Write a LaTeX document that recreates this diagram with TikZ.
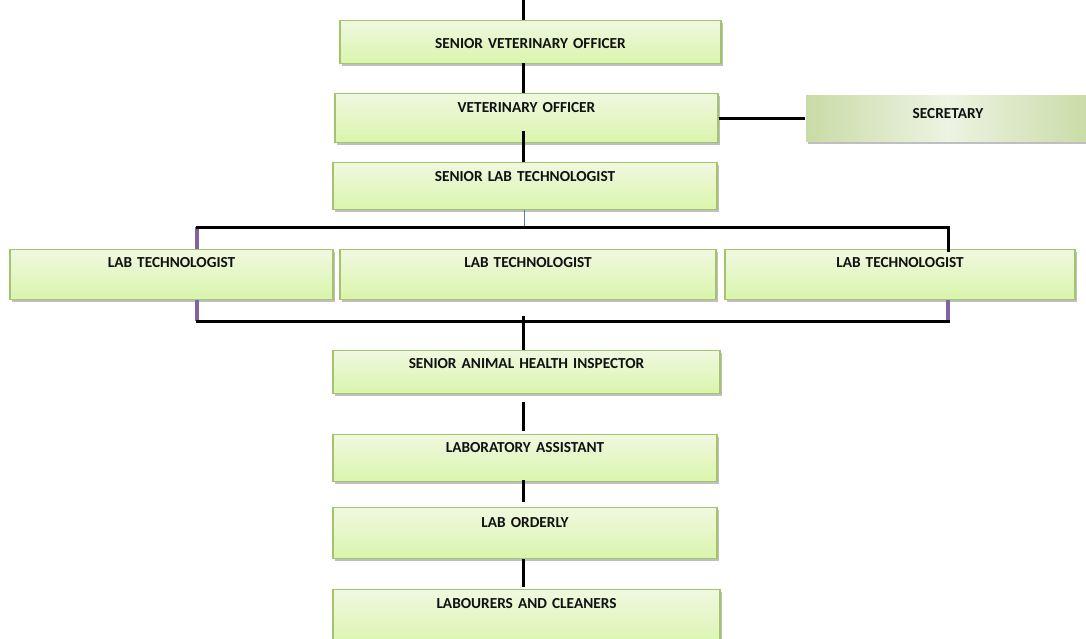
\documentclass[tikz,border=0pt]{standalone}
\usepackage{fontspec}
\setmainfont{Carlito}
\usetikzlibrary{shadows,calc}
\definecolor{boxborder}{HTML}{A3C46A}
\definecolor{boxtop}{HTML}{F0F8E0}
\definecolor{boxbot}{HTML}{D9F5AC}
\definecolor{secedge}{HTML}{C9DBA6}
\definecolor{secmid}{HTML}{EDF3E2}
\definecolor{linkpurple}{HTML}{8064A2}
\definecolor{linkblue}{HTML}{4F81BD}
\definecolor{txt}{HTML}{111111}
\tikzset{
  orgbox/.style={draw=boxborder, line width=1.2pt, top color=boxtop, bottom color=boxbot,
    inner sep=0pt, align=center, anchor=north, text=txt,
    font=\fontsize{15.3}{17}\selectfont\bfseries,
    drop shadow={shadow xshift=1.5pt, shadow yshift=-2pt, fill=black, opacity=0.25}},
  secbox/.style={orgbox, draw=none, left color=secedge, right color=secedge, middle color=secmid},
  link/.style={draw=black, line width=3pt},
  plink/.style={draw=linkpurple, line width=4.5pt},
  blink/.style={draw=linkblue, line width=0.8pt}
}
\begin{document}
\begin{tikzpicture}[x=1pt,y=-1pt]
\useasboundingbox (0,0) rectangle (1086,639);
\fill[white] (0,0) rectangle (1086,639);
% boxes: text width = R-L, text height = baseline-T, text depth = B-baseline
\node[orgbox, text width=381pt, text height=28pt, text depth=15pt] (svo) at (530.5,20) {SENIOR VETERINARY OFFICER};
\node[orgbox, text width=383pt, text height=19pt, text depth=30pt] (vo) at (526.5,93) {VETERINARY OFFICER};
\node[orgbox, text width=384pt, text height=19pt, text depth=28pt] (slt) at (525,162) {SENIOR LAB TECHNOLOGIST};
\node[secbox, text width=284pt, text height=23pt, text depth=23pt] (sec) at (948,95) {SECRETARY};
\node[orgbox, text width=323pt, text height=18pt, text depth=32pt] (lt1) at (171.5,249) {LAB TECHNOLOGIST};
\node[orgbox, text width=376pt, text height=18pt, text depth=32pt] (lt2) at (528,249) {LAB TECHNOLOGIST};
\node[orgbox, text width=350pt, text height=18pt, text depth=32pt] (lt3) at (900,249) {LAB TECHNOLOGIST};
\node[orgbox, text width=387pt, text height=18pt, text depth=25pt] (sahi) at (526.5,350) {SENIOR ANIMAL HEALTH INSPECTOR};
\node[orgbox, text width=384pt, text height=18pt, text depth=29pt] (la) at (525,434) {LABORATORY ASSISTANT};
\node[orgbox, text width=384pt, text height=20pt, text depth=31pt] (lo) at (525,507) {LAB ORDERLY};
\node[orgbox, text width=387pt, text height=19pt, text depth=40pt] (lc) at (526.5,589) {LABOURERS AND CLEANERS};
% coordinates
\coordinate (top) at (523,0);
\coordinate (tl) at (197,227);
\coordinate (tr) at (948,227);
\coordinate (bl) at (197,321);
\coordinate (br) at (948,321);
\coordinate (bm) at (523,316);
% connectors
\draw[link] (top) -- (top |- svo.north);
\draw[link] ($(top |- svo.south)+(0,-1)$) -- (top |- vo.north);
\draw[link] ($(top |- vo.south)+(0,-12)$) -- (top |- slt.north);
\draw[link] (vo.east) -- (vo.east -| sec.west);
\draw[blink] ($(slt.south)+(-1,0)$) -- ($(slt.south |- tl)+(-1,0)$);
\draw[plink] (tl) -- (tl |- lt1.north);
\draw[link] ($(tl)+(-1.5,0)$) -- (tr) -- ($(tr |- lt3.north)+(0,3)$);
\draw[plink] (bl |- lt1.south) -- (bl);
\draw[plink] (br |- lt3.south) -- (br);
\draw[link] ($(bl)+(-1.5,0)$) -- ($(br)+(1.5,0)$);
\draw[link] (bm) -- (bm |- sahi.north);
\draw[link, shorten <=8pt, shorten >=3pt] (top |- sahi.south) -- (top |- la.north);
\draw[link, shorten <=-2pt, shorten >=5pt] (top |- la.south) -- (top |- lo.north);
\draw[link, shorten >=2pt] (top |- lo.south) -- (top |- lc.north);
\end{tikzpicture}
\end{document}
